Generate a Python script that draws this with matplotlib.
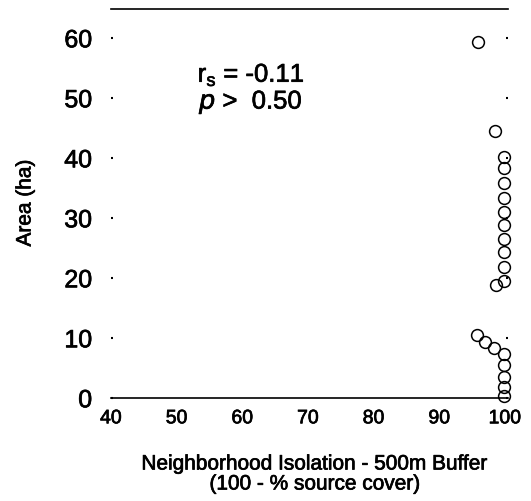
import matplotlib.pyplot as plt
import matplotlib.patheffects as pe

plt.rcParams['font.family'] = ['Liberation Sans', 'DejaVu Sans']

# neighborhood isolation (100 - % source cover) vs patch area (ha)
isolation = [95.9, 98.5,
             99.8, 99.8, 99.8, 99.8, 99.8, 99.8, 99.8, 99.8, 99.8, 99.8, 98.6,
             95.8, 97.0, 98.4, 99.8, 99.8, 99.8, 99.8, 99.8]
area = [59.3, 44.5,
        40.2, 38.3, 35.8, 33.3, 31.0, 28.8, 26.5, 24.3, 21.8, 19.5, 18.8,
        10.5, 9.3, 8.3, 7.3, 5.5, 3.5, 1.8, 0.3]

x_ticks = [40, 50, 60, 70, 80, 90, 100]
y_ticks = [0, 10, 20, 30, 40, 50, 60]

# slightly heavier text, like the scanned original
heavy = [pe.withStroke(linewidth=0.5, foreground="black")]

fig = plt.figure(figsize=(5.31, 5.01), dpi=100)
ax = fig.add_axes([0.209, 0.206, 0.748, 0.776])

ax.plot(isolation, area, "o", markersize=8.5, markerfacecolor="none",
        markeredgecolor="black", markeredgewidth=1.1, clip_on=False)

ax.set_xlim(40, 100.5)
ax.set_ylim(0, 64.8)
ax.set_xticks(x_ticks)
ax.set_yticks(y_ticks)
ax.tick_params(axis="x", length=0, pad=9, labelsize=14)
ax.tick_params(axis="y", direction="in", length=1.5, width=1.5, pad=13.5,
               labelsize=18, right=True)
for lab in ax.get_xticklabels() + ax.get_yticklabels():
    lab.set_path_effects(heavy)

for side in ["left", "right"]:
    ax.spines[side].set_visible(False)
ax.spines["top"].set_linewidth(1.2)
ax.spines["bottom"].set_linewidth(1.2)

ax.text(53.2, 53.8, r"r$_\mathregular{s}$ = -0.11", fontsize=18.5,
        va="center", path_effects=heavy)
ax.text(53.4, 49.2, r"$\it{p}$ >  0.50", fontsize=18.5, va="center",
        path_effects=heavy)

fig.text(25 / 531, 1 - 203 / 501, "Area (ha)", fontsize=15, rotation=90,
         ha="center", va="center", path_effects=heavy)
fig.text(315 / 531, 1 - 464 / 501, "Neighborhood Isolation - 500m Buffer",
         fontsize=15, ha="center", va="center", path_effects=heavy)
fig.text(315 / 531, 1 - 484 / 501, "(100 - % source cover)",
         fontsize=15, ha="center", va="center", path_effects=heavy)

fig.savefig("out.png", dpi=100)
